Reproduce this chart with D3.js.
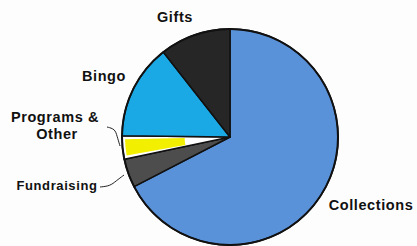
<!DOCTYPE html>
<html>
<head>
<meta charset="utf-8">
<script src="https://cdn.jsdelivr.net/npm/d3@7"></script>
<style>
  body { margin: 0; background: #fdfdfd; }
  text { font-family: "Liberation Sans", Arial, sans-serif; font-weight: bold; fill: #111; }
</style>
</head>
<body>
<div id="root"></div>
<script>
// slices, clockwise from 12 o'clock
var categories = ["Collections", "Fundraising", "Programs & Other", "Bingo", "Gifts"];
var shares = [67.4, 4.3, 3.5, 14.2, 10.6];
var colors = ["#5a92da", "#4d4d4d", "#ffffff", "#1ba9e6", "#262626"];

var width = 417, height = 246;
var cx = 230, cy = 137, r = 108;

var svg = d3.select("#root").append("svg")
    .attr("width", width)
    .attr("height", height);

var g = svg.append("g").attr("transform", "translate(" + cx + "," + cy + ")");

var pie = d3.pie().sort(null).value(function(d) { return d; });
var arcs = pie(shares);
var arc = d3.arc().innerRadius(0).outerRadius(r);

g.selectAll("path.slice")
    .data(arcs)
  .enter().append("path")
    .attr("class", "slice")
    .attr("d", arc)
    .style("fill", function(d, i) { return colors[i]; })
    .style("stroke", "#111")
    .style("stroke-width", 1.5)
    .style("stroke-linejoin", "round");

// yellow fill sitting inside the white programs wedge
var prog = arcs[2];
var yellowArc = d3.arc()
    .innerRadius(r * 0.42)
    .outerRadius(r - 3)
    .startAngle(prog.startAngle + 0.03)
    .endAngle(prog.endAngle - 0.035);
g.append("path")
    .attr("d", yellowArc())
    .style("fill", "#f3ef00");

// outer ring
g.append("circle")
    .attr("r", r)
    .style("fill", "none")
    .style("stroke", "#111")
    .style("stroke-width", 2);

// labels
var labels = [
  {t: "Gifts", x: 175, y: 22, size: 14.5},
  {t: "Bingo", x: 104, y: 81, size: 14.5},
  {t: "Programs &", x: 55, y: 122, size: 14.5},
  {t: "Other", x: 57, y: 139, size: 14.5},
  {t: "Fundraising", x: 57, y: 190, size: 13},
  {t: "Collections", x: 371, y: 210, size: 14.5}
];
svg.selectAll("text.lbl")
    .data(labels)
  .enter().append("text")
    .attr("class", "lbl")
    .attr("x", function(d) { return d.x; })
    .attr("y", function(d) { return d.y; })
    .attr("text-anchor", "middle")
    .style("font-size", function(d) { return d.size + "px"; })
    .style("letter-spacing", "0.6px")
    .text(function(d) { return d.t; });

// leader lines
var line = d3.line().curve(d3.curveBasis);
var leaders = [
  [[107, 127], [115, 129], [117, 136], [120, 146]],
  [[100, 187], [110, 186], [116, 181], [124, 175]]
];
svg.selectAll("path.leader")
    .data(leaders)
  .enter().append("path")
    .attr("class", "leader")
    .attr("d", line)
    .style("fill", "none")
    .style("stroke", "#222")
    .style("stroke-width", 1);
</script>
</body>
</html>
